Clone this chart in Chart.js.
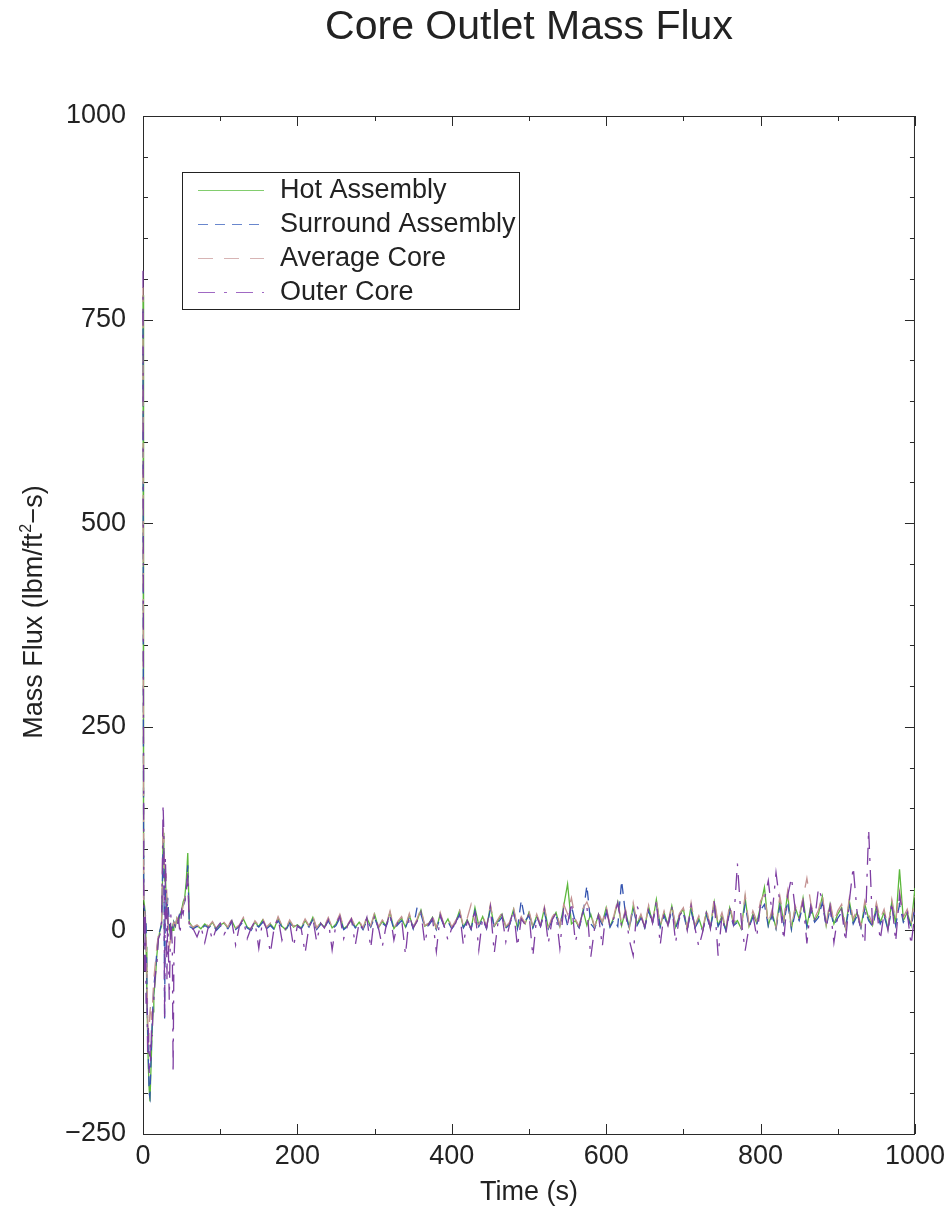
<!DOCTYPE html>
<html>
<head>
<meta charset="utf-8">
<script src="https://cdn.jsdelivr.net/npm/chart.js@4.4.1/dist/chart.umd.min.js"></script>
<style>
  html, body { margin: 0; padding: 0; background: #fff; }
  #wrap { width: 951px; height: 1213px; position: relative; }
</style>
</head>
<body>
<div id="wrap"><canvas id="c" width="951" height="1213"></canvas></div>
<script>
// ---- data ----
const seriesNames = ['Hot Assembly', 'Surround Assembly', 'Average Core', 'Outer Core'];

const timesEarly = [0, 0.5, 1, 2, 3, 4, 5, 6, 7, 8, 9, 10, 11, 12, 13, 14,
  16, 18, 20, 22, 24, 25, 26, 27, 28, 29, 30, 31, 32, 34, 36, 38, 39, 40,
  42, 44, 46, 48, 50, 52, 54, 56, 58, 60];
const timesLate = [65, 70, 75, 80, 85, 90, 95, 100,
  105, 110, 115, 120, 125, 130, 135, 140, 145, 150, 155, 160, 165, 170, 175, 180, 185, 190, 195, 200,
  205, 210, 215, 220, 225, 230, 235, 240, 245, 250, 255, 260, 265, 270, 275, 280, 285, 290, 295, 300,
  305, 310, 315, 320, 325, 330, 335, 340, 345, 350, 355, 360, 365, 370, 375, 380, 385, 390, 395, 400,
  405, 410, 415, 420, 425, 430, 435, 440, 445, 450, 455, 460, 465, 470, 475, 480, 485, 490, 495, 500,
  505, 510, 515, 520, 525, 530, 535, 540, 545, 550, 555, 560, 565, 570, 575, 580, 585, 590, 595, 600,
  605, 610, 615, 620, 625, 630, 635, 640, 645, 650, 655, 660, 665, 670, 675, 680, 685, 690, 695, 700,
  705, 710, 715, 720, 725, 730, 735, 740, 745, 750, 755, 760, 765, 770, 775, 780, 785, 790, 795, 800,
  805, 810, 815, 820, 825, 830, 835, 840, 845, 850, 855, 860, 865, 870, 875, 880, 885, 890, 895, 900,
  905, 910, 915, 920, 925, 930, 935, 940, 945, 950, 955, 960, 965, 970, 975, 980, 985, 990, 995, 1000];

const hotEarly = [780, 300, 40, 30, 20, -20, -80, -130, -170, -195, -210, -180, -150, -120, -100, -80,
  -60, -30, -10, 0, 5, 40, 120, 100, 60, 70, 40, 20, 10, 5, -10, 5, 0, 10,
  5, 15, 10, 20, 25, 35, 40, 60, 95, 10];
const hotLate = [3, 6, 2, 8, 4, 10, 1, 7,
  9, 3, 12, 2, 6, 14, 4, 1, 10, 5, 13, 3, 8, 2, 15, 5, 1, 11, 4, 7,
  3, 12, 5, 16, 2, 9, 4, 14, 3, 8, 18, 2, 6, 13, 4, 10, 2, 15, 5, 20,
  3, 11, 6, 22, 2, 9, 15, 4, 19, 3, 12, 25, 5, 8, 16, 2, 20, 6, 14, 3,
  10, 24, 4, 13, 2, 28, 6, 17, 3, 30, 5, 12, 20, 4, 9, 26, 3, 15, 8, 22,
  4, 18, 6, 27, 3, 14, 22, 5, 30, 57, 8, 12, 4, 25, 6, 20, 3, 20, 9, 28,
  5, 16, 35, 6, 24, 3, 30, 8, 18, 4, 29, 10, 38, 5, 22, 7, 30, 4, 19, 26,
  2, 30, 4, 15, 0, 22, 3, 35, 6, 18, 1, 28, 8, 12, 2, 40, 5, 20, 9, 30,
  53, 6, 22, 3, 38, 10, 45, 2, 28, 14, 40, 5, 30, 12, 20, 42, 6, 32, 8, 20,
  28, 3, 36, 10, 22, 4, 32, 15, 6, 30, 10, 22, 2, 35, 8, 75, 12, 22, 6, 52];

const surroundEarly = [760, 250, 30, 25, 20, 10, -60, -120, -160, -200, -205, -170, -140, -110, -90, -70,
  -50, -25, -5, 0, 10, 50, 110, 90, -110, 50, 30, 15, 40, 10, -5, 0, 5, 10,
  5, 10, 15, 20, 20, 30, 35, 50, 80, 5];
const surroundLate = [2, 5, 1, 6, 3, 8, 0, 5,
  7, 2, 10, 1, 5, 11, 3, 0, 8, 4, 10, 2, 6, 1, 12, 4, 0, 9, 3, 5,
  2, 10, 4, 13, 1, 7, 3, 12, 2, 6, 15, 1, 5, 11, 3, 8, 1, 12, 4, 16,
  2, 9, 5, 18, 1, 7, 12, 3, 16, 2, 28, 20, 4, 6, 13, 1, 17, 5, 11, 2,
  8, 20, 3, 11, 1, 24, 5, 14, 2, 26, 4, 10, 16, 3, 7, 22, 2, 37, 12, 18,
  3, 15, 5, 22, 2, 12, 18, 4, 25, 6, 30, 10, 3, 20, 55, 8, 2, 16, 7, 22,
  4, 13, 5, 61, 20, 2, 28, 6, 15, 3, 24, 8, 32, 4, 18, 5, 25, 3, 15, 21,
  1, 24, 3, 12, 0, 18, 2, 28, 5, 14, 0, 22, 6, 10, 2, 32, 4, 16, 7, 25,
  32, 5, 18, 2, 30, 8, 36, 1, 22, 12, 32, 4, 24, 10, 16, 34, 5, 26, 6, 15,
  22, 2, 30, 8, 18, 3, 26, 12, 5, 24, 8, 18, 1, 28, 6, 32, 10, 18, 4, 30];

const averageEarly = [790, 280, 35, 28, 15, -10, -50, -100, -140, -120, -100, -90, -110, -95, -80, -60,
  -40, -20, -5, 0, 10, 60, 130, 110, 80, 60, 70, 40, 20, -20, -10, 0, 5, 10,
  8, 15, 12, 18, 20, 30, 38, 50, 65, 8];
const averageLate = [4, 7, 3, 9, 5, 11, 2, 8,
  10, 4, 14, 3, 7, 16, 5, 2, 12, 6, 15, 4, 9, 3, 17, 6, 2, 13, 5, 8,
  4, 14, 6, 18, 3, 10, 5, 16, 4, 9, 20, 3, 7, 15, 5, 12, 3, 17, 6, 22,
  4, 13, 7, 24, 3, 11, 17, 5, 21, 4, 14, 27, 6, 9, 18, 3, 22, 7, 16, 4,
  12, 26, 5, 15, 32, 10, 7, 19, 4, 32, 6, 14, 22, 5, 10, 28, 4, 17, 9, 24,
  5, 20, 7, 29, 4, 16, 24, 6, 32, 20, 40, 14, 5, 27, 35, 22, 4, 22, 10, 30,
  6, 18, 38, 7, 26, 4, 34, 9, 20, 5, 31, 11, 36, 6, 24, 8, 32, 5, 21, 28,
  3, 34, 6, 18, 1, 26, 4, 40, 8, 22, 2, 32, 10, 15, 3, 44, 7, 24, 12, 36,
  45, 8, 26, 4, 42, 14, 48, 3, 30, 18, 40, 64, 34, 15, 25, 44, 8, 36, 10, 24,
  32, 4, 40, 14, 26, 5, 36, 20, 8, 34, 14, 26, 3, 38, 12, 48, 16, 26, 8, 42];

const outerEarly = [810, 350, 50, -50, 20, -90, -70, -150, -120, -175, -140, -165, -120, -130, -90, -85,
  -55, -40, -10, -5, 5, 70, 155, 120, -110, 90, 50, -60, 30, -85, 20, -20, -175, -40,
  10, 5, 15, -5, 25, 20, 35, 45, 70, 0];
const outerLate = [2, -8, 5, -15, 6, -12, 3, 9,
  -5, 4, 12, -18, 6, 14, -10, 3, 11, -22, 13, 2, -28, 4, 15, -12, 3, 10, -20, 6,
  2, -28, 5, 15, -14, 9, 3, 13, -24, 8, 17, -10, 6, 14, -18, 10, 2, 16, -22, 19,
  3, -20, 6, 21, -12, 10, 14, -30, 18, 3, 11, 23, -16, 8, 15, -26, 19, 6, -12, 3,
  9, 23, -18, 12, 2, 27, -24, 16, 3, 29, -28, 11, 19, -14, 8, 25, -20, 14, 7, 21,
  -32, 17, 5, 26, -16, 13, 21, -22, 29, 7, 35, -14, 4, 24, 30, -33, 3, 19, -20, 27,
  4, 15, 34, 5, 23, -12, -31, 30, 17, 4, 28, 9, 36, -18, 21, 6, 30, -15, 18, 25,
  0, 30, 3, -20, -2, 24, 2, 36, -31, 18, -4, 28, 8, 82, 12, -25, 4, 20, -8, 32,
  38, 61, 20, 71, 34, -12, 42, 65, 25, 14, 36, -16, 30, 12, 52, 38, 4, 30, -15, 18,
  26, -14, 36, 78, 22, 2, -16, 124, 6, 30, -12, 22, 0, 35, -14, 44, 14, 22, -18, 22];

const xTickLabels = [0, 200, 400, 600, 800, 1000];
const yTickLabels = [-250, 0, 250, 500, 750, 1000];

// ---- build datasets ----
const times = timesEarly.concat(timesLate);
function pts(early, late) {
  const v = early.concat(late);
  return times.map((t, i) => ({ x: t, y: v[i] }));
}
const styles = [
  { color: 'rgb(92,184,60)',   legend: 'rgb(130,205,110)', dash: [],            order: 4 },
  { color: 'rgb(52,84,176)',   legend: 'rgb(105,135,205)', dash: [10, 7],       order: 3 },
  { color: 'rgb(196,146,146)', legend: 'rgb(215,180,180)', dash: [15, 11],      order: 2 },
  { color: 'rgb(126,62,162)',  legend: 'rgb(160,105,195)', dash: [17, 9, 3, 9], order: 1 }
];
const values = [[hotEarly, hotLate], [surroundEarly, surroundLate], [averageEarly, averageLate], [outerEarly, outerLate]];
const datasets = seriesNames.map((name, i) => ({
  label: name,
  data: pts(values[i][0], values[i][1]),
  borderColor: styles[i].color,
  borderDash: styles[i].dash,
  borderWidth: 1.3,
  pointRadius: 0,
  fill: false,
  tension: 0,
  clip: { left: 2, top: 0, right: 0, bottom: 0 },
  order: styles[i].order
}));

const FONT = "'Liberation Sans', Arial, Helvetica, sans-serif";
Chart.defaults.font.family = FONT;
Chart.defaults.color = '#222';

// frame + inward ticks (under the data), legend + y title (on top)
const framePlugin = {
  id: 'framePlugin',
  beforeDatasetsDraw(chart) {
    const { ctx, chartArea: a, scales: { x, y } } = chart;
    ctx.save();
    ctx.strokeStyle = '#2a2a2a';
    ctx.lineWidth = 1;
    ctx.strokeRect(a.left + 0.5, a.top + 0.5, a.right - a.left - 1, a.bottom - a.top);
    ctx.beginPath();
    y.ticks.forEach(t => {
      const py = Math.round(y.getPixelForValue(t.value)) + 0.5;
      const len = yTickLabels.includes(t.value) ? 10 : 5;
      ctx.moveTo(a.left, py); ctx.lineTo(a.left + len, py);
      ctx.moveTo(a.right, py); ctx.lineTo(a.right - len, py);
    });
    x.ticks.forEach(t => {
      const px = Math.round(x.getPixelForValue(t.value)) + 0.5;
      const len = xTickLabels.includes(t.value) ? 10 : 5;
      ctx.moveTo(px, a.bottom); ctx.lineTo(px, a.bottom - len);
      ctx.moveTo(px, a.top); ctx.lineTo(px, a.top + len);
    });
    ctx.stroke();
    ctx.restore();
  },
  afterDraw(chart) {
    const { ctx } = chart;
    ctx.save();
    // legend
    const bx = 182, by = 172, bw = 337, bh = 137;
    ctx.fillStyle = '#fff';
    ctx.fillRect(bx, by, bw, bh);
    ctx.strokeStyle = '#222';
    ctx.lineWidth = 1;
    ctx.strokeRect(bx + 0.5, by + 0.5, bw, bh);
    ctx.font = '27px ' + FONT;
    ctx.textBaseline = 'middle';
    chart.data.datasets.forEach((ds, i) => {
      const ry = 190 + i * 34;
      ctx.strokeStyle = styles[i].legend;
      ctx.lineWidth = 1.2;
      ctx.setLineDash(ds.borderDash);
      ctx.beginPath();
      ctx.moveTo(198, ry + 0.5); ctx.lineTo(264, ry + 0.5);
      ctx.stroke();
      ctx.setLineDash([]);
      ctx.fillStyle = '#222';
      ctx.fillText(ds.label, 280, ry + 1);
    });

    // y-axis title with superscript
    const p1 = 'Mass Flux (lbm/ft', sup = '2', p3 = '\u2212s)';
    ctx.translate(32, 612);
    ctx.rotate(-Math.PI / 2);
    ctx.textBaseline = 'alphabetic';
    ctx.font = '27px ' + FONT;
    const w1 = ctx.measureText(p1).width, w3 = ctx.measureText(p3).width;
    ctx.font = '16px ' + FONT;
    const w2 = ctx.measureText(sup).width;
    const total = w1 + w2 + w3 + 1;
    let px = -total / 2;
    ctx.fillStyle = '#222';
    ctx.font = '27px ' + FONT;
    ctx.fillText(p1, px, 10); px += w1;
    ctx.font = '16px ' + FONT;
    ctx.fillText(sup, px + 0.5, -1); px += w2 + 1;
    ctx.font = '27px ' + FONT;
    ctx.fillText(p3, px, 10);
    ctx.restore();
  }
};

new Chart(document.getElementById('c'), {
  type: 'line',
  data: { datasets },
  options: {
    responsive: false,
    animation: false,
    events: [],
    layout: { padding: { top: 0, right: 34, bottom: 0, left: 0 } },
    plugins: {
      legend: { display: false },
      tooltip: { enabled: false },
      title: {
        display: true,
        fullSize: false,
        text: 'Core Outlet Mass Flux',
        font: { size: 41, weight: 'normal' },
        color: '#222',
        padding: { top: 3, bottom: 63.8 }
      }
    },
    scales: {
      x: {
        type: 'linear',
        min: 0, max: 1000,
        grid: { display: false, drawTicks: false },
        border: { display: false },
        ticks: {
          stepSize: 100,
          maxTicksLimit: 100,
          autoSkip: false,
          maxRotation: 0,
          padding: 6,
          font: { size: 27 },
          color: '#222',
          callback: v => xTickLabels.includes(v) ? String(v) : ''
        },
        title: {
          display: true, text: 'Time (s)',
          font: { size: 27 }, color: '#222',
          padding: { top: 0, bottom: 4 }
        },
        afterFit: s => { s.height = 79; }
      },
      y: {
        type: 'linear',
        min: -250, max: 1000,
        grid: { display: false, drawTicks: false },
        border: { display: false },
        ticks: {
          stepSize: 50,
          maxTicksLimit: 100,
          autoSkip: false,
          padding: 17,
          font: { size: 27 },
          color: '#222',
          callback: v => yTickLabels.includes(v) ? String(v).replace('-', '\u2212') : ''
        },
        title: { display: false },
        afterFit: s => { s.width = 143; }
      }
    }
  },
  plugins: [framePlugin]
});
</script>
</body>
</html>
